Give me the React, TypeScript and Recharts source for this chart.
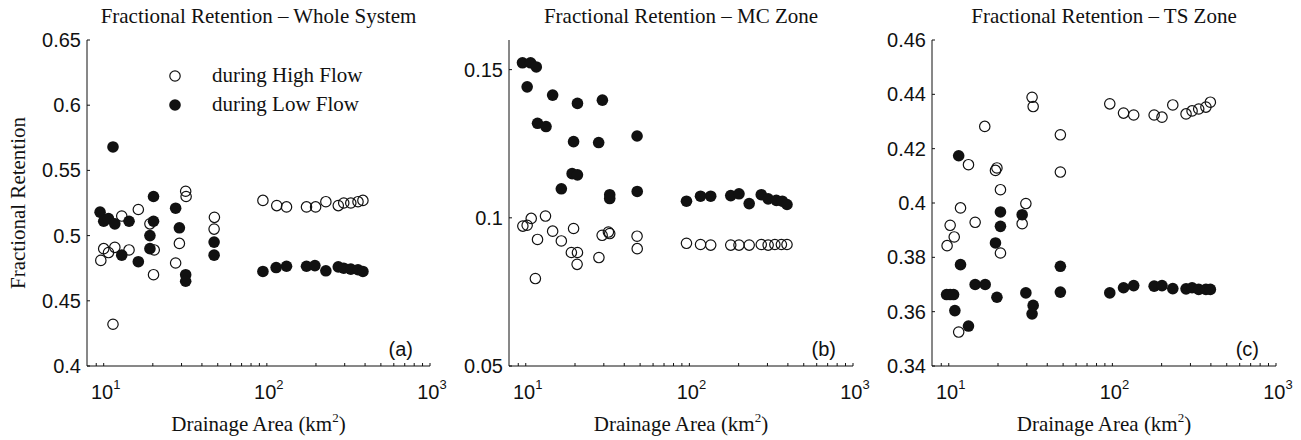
import { ScatterChart, Scatter, XAxis, YAxis, Legend } from "recharts";

// drainage area (km2) and fractional retention
const areaWholeHigh = [9.6, 10, 10.7, 11.7, 11.4, 12.9, 14.3, 16.3, 19.2, 20.4, 20.2, 27.6, 29.1, 31.8, 32.0, 47.7, 47.5, 94.6, 115, 132, 175, 199, 230, 274, 296, 327, 362, 388];
const retWholeHigh = [0.481, 0.49, 0.487, 0.491, 0.432, 0.515, 0.489, 0.52, 0.509, 0.489, 0.47, 0.479, 0.494, 0.534, 0.53, 0.514, 0.505, 0.527, 0.523, 0.522, 0.522, 0.522, 0.526, 0.523, 0.525, 0.525, 0.526, 0.527];
const areaWholeLow = [9.5, 10, 10.7, 11.4, 11.7, 12.9, 14.3, 16.3, 19.2, 19.2, 20.2, 20.2, 27.6, 29.1, 31.8, 31.8, 47.5, 47.5, 94.6, 114, 132, 175, 197, 230, 274, 296, 327, 362, 388];
const retWholeLow = [0.518, 0.511, 0.513, 0.568, 0.509, 0.485, 0.511, 0.48, 0.5, 0.49, 0.53, 0.511, 0.521, 0.506, 0.47, 0.465, 0.495, 0.485, 0.4725, 0.4755, 0.4765, 0.4765, 0.477, 0.473, 0.476, 0.475, 0.4743, 0.4738, 0.4725];

const areaMcHigh = [9.6, 10.2, 10.8, 11.8, 11.45, 13.2, 14.6, 16.5, 19.6, 19.0, 20.7, 20.6, 28, 29.3, 32, 32.6, 47.9, 48, 96, 117, 135, 179, 201, 232, 275, 303, 333, 365, 395];
const retMcHigh = [0.0972, 0.0975, 0.0998, 0.0927, 0.0795, 0.1006, 0.0955, 0.0922, 0.0964, 0.0883, 0.0883, 0.0843, 0.0866, 0.0941, 0.0952, 0.0947, 0.0938, 0.0896, 0.0914, 0.091, 0.0908, 0.0908, 0.0908, 0.0908, 0.091, 0.0908, 0.091, 0.091, 0.091];
const areaMcLow = [9.55, 10.7, 11.6, 10.2, 14.6, 20.7, 29.4, 11.8, 13.3, 19.6, 27.9, 47.9, 19.2, 20.7, 16.5, 32.6, 32.6, 48, 96, 117, 135, 179, 201, 232, 275, 303, 340, 370, 395];
const retMcLow = [0.1523, 0.1523, 0.1509, 0.1442, 0.1414, 0.1386, 0.1397, 0.1319, 0.1308, 0.1257, 0.1254, 0.1276, 0.1149, 0.1145, 0.1098, 0.1078, 0.1065, 0.1089, 0.1056, 0.1073, 0.1073, 0.1075, 0.1081, 0.1048, 0.1078, 0.1064, 0.1059, 0.1056, 0.1045];

const areaTsHigh = [9.77, 10.2, 10.8, 11.8, 11.5, 13.2, 14.5, 16.6, 19.3, 19.7, 20.7, 20.7, 28.1, 29.6, 32.3, 32.8, 48.1, 48.1, 96.4, 117, 135, 180, 201, 234, 282, 307, 337, 373, 397];
const retTsHigh = [0.3843, 0.3918, 0.3875, 0.3982, 0.3525, 0.4141, 0.3929, 0.4282, 0.412, 0.4129, 0.4049, 0.3816, 0.3924, 0.3998, 0.4389, 0.4355, 0.4251, 0.4114, 0.4365, 0.4331, 0.4324, 0.4324, 0.4316, 0.4361, 0.4328, 0.4339, 0.4346, 0.4353, 0.4371];
const areaTsLow = [9.7, 10.2, 10.7, 10.9, 11.5, 11.8, 13.2, 14.5, 16.7, 19.7, 19.3, 20.7, 20.7, 28.1, 29.6, 32.8, 32.3, 48.1, 48.1, 96.4, 117, 135, 180, 201, 234, 282, 307, 337, 373, 397];
const retTsLow = [0.3663, 0.3663, 0.3663, 0.3604, 0.4174, 0.3773, 0.3547, 0.37, 0.37, 0.3653, 0.3853, 0.3967, 0.3914, 0.3957, 0.3669, 0.3623, 0.3592, 0.3672, 0.3767, 0.3669, 0.3688, 0.3696, 0.3694, 0.3696, 0.3685, 0.3684, 0.3688, 0.3682, 0.3682, 0.3682];

const xTicks = [9, 10, 20, 30, 40, 50, 60, 70, 80, 90, 100, 200, 300, 400, 500, 600, 700, 800, 900, 1000];
const xMajor = [10, 100, 1000];
const yTicksWhole = [0.4, 0.45, 0.5, 0.55, 0.6, 0.65];
const yTicksMc = [0.05, 0.1, 0.15];
const yTicksTs = [0.34, 0.36, 0.38, 0.4, 0.42, 0.44, 0.46];

const SERIF = '"Liberation Serif", "Times New Roman", serif';
const SANS = '"Liberation Sans", Arial, sans-serif';
const INK = "#111";

const zip = (xs: number[], ys: number[]) => xs.map((x, i) => ({ x, y: ys[i] }));

function OpenDot(props: any) {
  return <circle cx={props.cx} cy={props.cy} r={5.2} fill="none" stroke={INK} strokeWidth={1.2} />;
}
function FilledDot(props: any) {
  return <circle cx={props.cx} cy={props.cy} r={5.8} fill={INK} />;
}

function XTick(props: any) {
  const { x, y, payload } = props;
  const v = payload.value;
  const major = xMajor.includes(v);
  return (
    <g>
      <line x1={x} x2={x} y1={y} y2={y - 3} stroke={INK} />
      {major && (
        <text x={x + 2} y={y + 33} textAnchor="middle" fontFamily={SANS} fontSize={20} fill={INK}>
          <tspan>10</tspan>
          <tspan dy={-10} fontSize={13}>{Math.round(Math.log10(v))}</tspan>
        </text>
      )}
    </g>
  );
}

function YTick(props: any) {
  const { x, y, payload } = props;
  const label = parseFloat(Number(payload.value).toFixed(2)).toString();
  return (
    <g>
      <line x1={x} x2={x + 3} y1={y} y2={y} stroke={INK} />
      <text x={x - 6} y={y + 7} textAnchor="end" fontFamily={SANS} fontSize={20} fill={INK}>
        {label}
      </text>
    </g>
  );
}

function LegendBox() {
  return (
    <svg width={240} height={62} style={{ display: "block" }}>
      <circle cx={15} cy={16} r={5.2} fill="none" stroke={INK} strokeWidth={1.2} />
      <text x={52} y={22} fontFamily={SERIF} fontSize={21} fill={INK}>during High Flow</text>
      <circle cx={15} cy={45} r={5.8} fill={INK} />
      <text x={52} y={51} fontFamily={SERIF} fontSize={21} fill={INK}>during Low Flow</text>
    </svg>
  );
}

interface PanelProps {
  left: number;
  width: number;
  plotLeft: number;
  plotRight: number;
  yDomain: [number, number];
  yTicks: number[];
  high: { x: number; y: number }[];
  low: { x: number; y: number }[];
  title: string;
  letter: string;
  showYLabel?: boolean;
  showLegend?: boolean;
}

const HEIGHT = 440;
const PLOT_TOP = 40;
const PLOT_BOTTOM = 366;
const Y_AXIS_W = 60;
const X_AXIS_H = 40;

function Panel(p: PanelProps) {
  const margin = {
    left: p.plotLeft - p.left - Y_AXIS_W,
    right: p.left + p.width - p.plotRight,
    top: PLOT_TOP,
    bottom: HEIGHT - PLOT_BOTTOM - X_AXIS_H,
  };
  const cx = (p.plotLeft + p.plotRight) / 2 - p.left;
  return (
    <div style={{ position: "absolute", left: p.left, top: 0, width: p.width, height: HEIGHT }}>
      <ScatterChart width={p.width} height={HEIGHT} margin={margin}>
        <XAxis
          type="number"
          dataKey="x"
          scale="log"
          domain={[7.9, 1000]}
          allowDataOverflow
          ticks={xTicks}
          interval={0}
          height={X_AXIS_H}
          tickSize={0}
          tickMargin={0}
          tickLine={false}
          axisLine={{ stroke: INK }}
          tick={<XTick />}
        />
        <YAxis
          type="number"
          dataKey="y"
          domain={p.yDomain}
          allowDataOverflow
          ticks={p.yTicks}
          interval={0}
          width={Y_AXIS_W}
          tickSize={0}
          tickMargin={0}
          tickLine={false}
          axisLine={{ stroke: INK }}
          tick={<YTick />}
        />
        {p.showLegend && (
          <Legend
            layout="vertical"
            align="center"
            verticalAlign="middle"
            wrapperStyle={{ left: 160 - p.left, top: 60, width: 240 }}
            content={() => <LegendBox />}
          />
        )}
        <Scatter name="during High Flow" data={p.high} shape={<OpenDot />} isAnimationActive={false} />
        <Scatter name="during Low Flow" data={p.low} shape={<FilledDot />} isAnimationActive={false} />
      </ScatterChart>
      <svg
        width={p.width}
        height={HEIGHT}
        style={{ position: "absolute", left: 0, top: 0, pointerEvents: "none" }}
      >
        <text x={cx} y={23} textAnchor="middle" fontFamily={SERIF} fontSize={21} fill={INK}>
          {p.title}
        </text>
        <text x={cx} y={431} textAnchor="middle" fontFamily={SERIF} fontSize={21} fill={INK}>
          Drainage Area (km<tspan dy={-9} fontSize={13}>2</tspan>
          <tspan dy={9}>)</tspan>
        </text>
        <text
          x={p.plotRight - p.left - 17}
          y={356}
          textAnchor="end"
          fontFamily={SANS}
          fontSize={20}
          fill={INK}
        >
          {p.letter}
        </text>
        {p.showYLabel && (
          <text
            transform={`translate(${25 - p.left}, ${(PLOT_TOP + PLOT_BOTTOM) / 2}) rotate(-90)`}
            textAnchor="middle"
            fontFamily={SERIF}
            fontSize={21}
            fill={INK}
          >
            Fractional Retention
          </text>
        )}
      </svg>
    </div>
  );
}

export default function App() {
  return (
    <div style={{ position: "absolute", left: 0, top: 0, width: 1301, height: HEIGHT, background: "#fff" }}>
      <Panel
        left={0}
        width={470}
        plotLeft={87}
        plotRight={430}
        yDomain={[0.4, 0.65]}
        yTicks={yTicksWhole}
        high={zip(areaWholeHigh, retWholeHigh)}
        low={zip(areaWholeLow, retWholeLow)}
        title="Fractional Retention – Whole System"
        letter="(a)"
        showYLabel
        showLegend
      />
      <Panel
        left={440}
        width={453}
        plotLeft={509}
        plotRight={853}
        yDomain={[0.05, 0.16]}
        yTicks={yTicksMc}
        high={zip(areaMcHigh, retMcHigh)}
        low={zip(areaMcLow, retMcLow)}
        title="Fractional Retention – MC Zone"
        letter="(b)"
      />
      <Panel
        left={863}
        width={438}
        plotLeft={932}
        plotRight={1276}
        yDomain={[0.34, 0.46]}
        yTicks={yTicksTs}
        high={zip(areaTsHigh, retTsHigh)}
        low={zip(areaTsLow, retTsLow)}
        title="Fractional Retention – TS Zone"
        letter="(c)"
      />
    </div>
  );
}
